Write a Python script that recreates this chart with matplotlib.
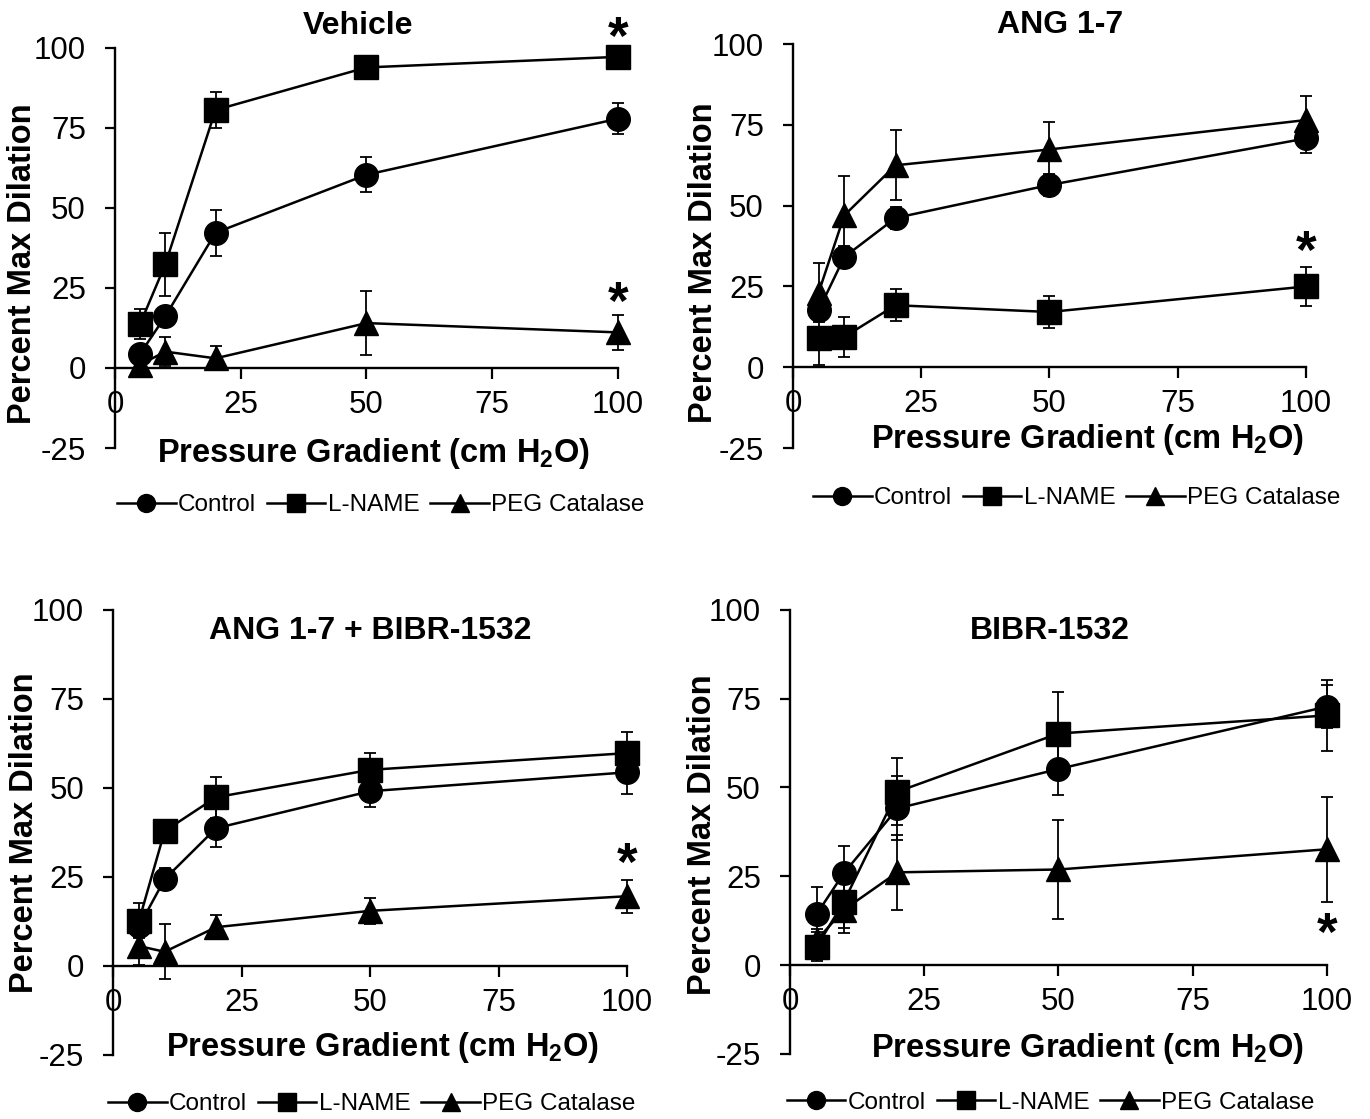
import matplotlib
matplotlib.use('Agg')
import matplotlib.pyplot as plt

plt.rcParams['font.family'] = ['Liberation Sans', 'DejaVu Sans']
plt.rcParams['mathtext.fontset'] = 'custom'
plt.rcParams['mathtext.rm'] = 'Liberation Sans'
plt.rcParams['mathtext.bf'] = 'Liberation Sans:bold'
plt.rcParams['axes.unicode_minus'] = False

# x values (cm H2O)
pressure = [5, 10, 20, 50, 100]
series_names = ['Control', 'L-NAME', 'PEG Catalase']

# Vehicle
veh_control = [4.4, 16.1, 42.2, 60.3, 77.8]
veh_control_err = [2.0, 2.0, 7.2, 5.4, 4.9]
veh_lname = [13.7, 32.3, 80.5, 93.8, 97.1]
veh_lname_err = [4.6, 9.9, 5.5, 1.5, 1.0]
veh_peg = [1.0, 5.1, 3.0, 14.0, 11.1]
veh_peg_err = [1.5, 4.6, 3.7, 10.1, 5.5]
veh_stars = [105.6, 23.0]

# ANG 1-7
ang_control = [17.6, 34.1, 46.2, 56.4, 70.8]
ang_control_err = [3.0, 3.5, 3.5, 3.5, 4.6]
ang_lname = [9.2, 9.4, 19.2, 17.1, 25.0]
ang_lname_err = [8.6, 6.3, 5.0, 4.9, 6.0]
ang_peg = [23.1, 47.0, 62.5, 67.4, 76.5]
ang_peg_err = [9.2, 12.2, 10.8, 8.6, 7.5]
ang_stars = [38.4]

# ANG 1-7 + BIBR-1532
ab_control = [11.0, 24.3, 38.6, 49.0, 54.3]
ab_control_err = [2.5, 3.0, 5.4, 4.5, 6.0]
ab_lname = [12.6, 37.8, 47.3, 55.0, 59.7]
ab_lname_err = [4.9, 1.5, 5.7, 4.7, 6.0]
ab_peg = [5.5, 3.9, 10.8, 15.4, 19.5]
ab_peg_err = [5.3, 7.7, 3.4, 3.6, 4.6]
ab_stars = [31.0]

# BIBR-1532
bibr_control = [14.4, 25.8, 44.1, 55.2, 72.8]
bibr_control_err = [7.7, 7.7, 9.0, 7.2, 6.0]
bibr_lname = [5.2, 17.7, 48.8, 65.2, 70.3]
bibr_lname_err = [4.2, 8.6, 9.4, 11.8, 10.0]
bibr_peg = [7.0, 15.5, 26.1, 26.9, 32.6]
bibr_peg_err = [3.0, 5.0, 10.5, 14.0, 14.8]
bibr_stars = [11.3]

markers = ['o', 's', '^']
STAR_FS = 38

fig = plt.figure(figsize=(13.7, 11.19), dpi=100)


def draw_panel(rect, title, title_xy, data, stars, xlab_xy, ylab_xy, leg_xy):
    ax = fig.add_axes(rect)
    ax.set_xlim(0, 100)
    ax.set_ylim(-25, 100)

    for (vals, errs), name, m in zip(data, series_names, markers):
        eb = ax.errorbar(pressure, vals, yerr=errs, fmt='none', ecolor='black',
                         elinewidth=1.3, capsize=4.5, capthick=1.3, zorder=2)
        for art in eb.get_children():
            art.set_clip_on(False)
        ax.plot(pressure, vals, color='black', lw=1.8, marker=m, ms=17,
                label=name, clip_on=False, zorder=3)

    # significance markers, glyph centred on the given value
    for s in stars:
        ax.annotate('*', xy=(100, s), xytext=(0, -0.47 * STAR_FS), textcoords='offset points',
                    ha='center', va='baseline', fontsize=STAR_FS, fontweight='bold',
                    annotation_clip=False)

    for side in ['top', 'right']:
        ax.spines[side].set_visible(False)
    for side in ['left', 'bottom']:
        ax.spines[side].set_linewidth(1.7)
    ax.spines['bottom'].set_position(('data', 0))

    ax.set_xticks([0, 25, 50, 75, 100])
    ax.set_yticks([-25, 0, 25, 50, 75, 100])
    ax.tick_params(axis='x', direction='out', length=8, width=1.6, pad=8, labelsize=22.5)
    ax.tick_params(axis='y', direction='out', length=7, width=1.6, pad=14, labelsize=22.5)

    ax.set_xlabel(r'Pressure Gradient (cm H$_\mathbf{2}$O)', fontsize=23.5,
                  fontweight='bold', va='baseline')
    ax.xaxis.set_label_coords(*xlab_xy)
    ax.set_ylabel('Percent Max Dilation', fontsize=23.5, fontweight='bold', va='center')
    ax.yaxis.set_label_coords(*ylab_xy)

    ax.text(title_xy[0], title_xy[1], title, transform=ax.transAxes, ha='center',
            va='center', fontsize=23, fontweight='bold')

    ax.legend(loc='center', bbox_to_anchor=leg_xy, bbox_transform=fig.transFigure,
              ncol=3, frameon=False, fontsize=17.5, handlelength=2.4,
              handletextpad=0.1, columnspacing=0.45, markerscale=0.76,
              borderpad=0, borderaxespad=0)
    return ax


draw_panel([0.0839, 0.5996, 0.3672, 0.3579], 'Vehicle', (0.483, 1.055),
           [(veh_control, veh_control_err), (veh_lname, veh_lname_err), (veh_peg, veh_peg_err)],
           veh_stars, (0.515, -0.034), (-0.183, 0.461), (0.278, 0.5487))

draw_panel([0.5788, 0.5996, 0.3745, 0.3610], 'ANG 1-7', (0.52, 1.047),
           [(ang_control, ang_control_err), (ang_lname, ang_lname_err), (ang_peg, ang_peg_err)],
           ang_stars, (0.574, 0.0), (-0.175, 0.459), (0.786, 0.5547))

draw_panel([0.0827, 0.0575, 0.3750, 0.3977], 'ANG 1-7 + BIBR-1532', (0.50, 0.951),
           [(ab_control, ab_control_err), (ab_lname, ab_lname_err), (ab_peg, ab_peg_err)],
           ab_stars, (0.525, -0.003), (-0.172, 0.499), (0.2715, 0.0134))

draw_panel([0.5766, 0.0583, 0.3920, 0.3966], 'BIBR-1532', (0.484, 0.953),
           [(bibr_control, bibr_control_err), (bibr_lname, bibr_lname_err), (bibr_peg, bibr_peg_err)],
           bibr_stars, (0.554, -0.007), (-0.162, 0.493), (0.767, 0.0147))

fig.savefig('out.png', dpi=100)
